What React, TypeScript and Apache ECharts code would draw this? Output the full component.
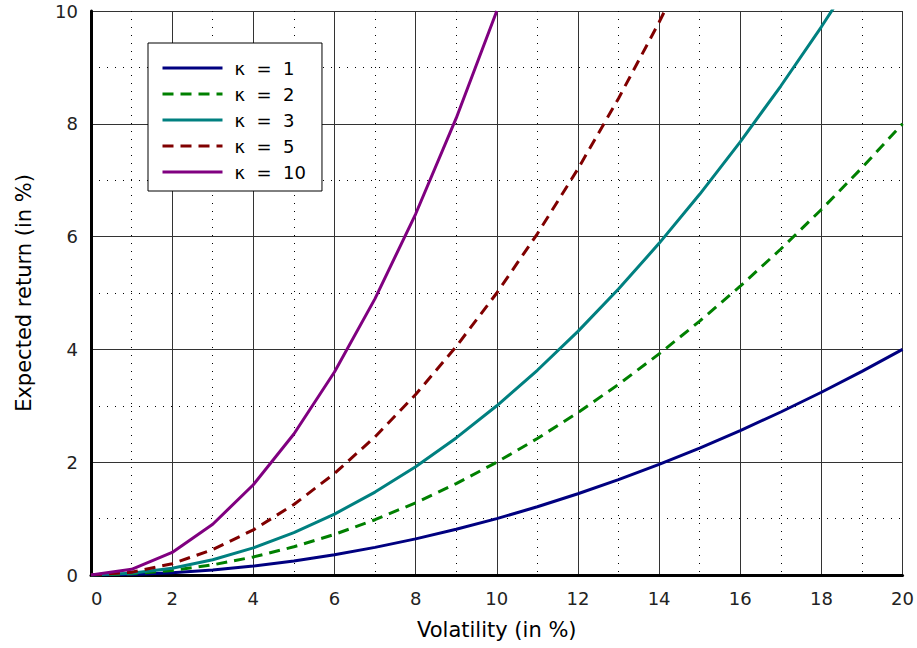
import React, { useEffect, useRef } from "react";
import * as echarts from "echarts";

const volatility = [0, 1, 2, 3, 4, 5, 6, 7, 8, 9, 10, 11, 12, 13, 14, 15, 16, 17, 18, 19, 20];
const k1 = [0, 0.01, 0.04, 0.09, 0.16, 0.25, 0.36, 0.49, 0.64, 0.81, 1, 1.21, 1.44, 1.69, 1.96, 2.25, 2.56, 2.89, 3.24, 3.61, 4];
const k2 = [0, 0.02, 0.08, 0.18, 0.32, 0.5, 0.72, 0.98, 1.28, 1.62, 2, 2.42, 2.88, 3.38, 3.92, 4.5, 5.12, 5.78, 6.48, 7.22, 8];
const k3 = [0, 0.03, 0.12, 0.27, 0.48, 0.75, 1.08, 1.47, 1.92, 2.43, 3, 3.63, 4.32, 5.07, 5.88, 6.75, 7.68, 8.67, 9.72, 10.83];
const k5 = [0, 0.05, 0.2, 0.45, 0.8, 1.25, 1.8, 2.45, 3.2, 4.05, 5, 6.05, 7.2, 8.45, 9.8, 11.25];
const k10 = [0, 0.1, 0.4, 0.9, 1.6, 2.5, 3.6, 4.9, 6.4, 8.1, 10];
const names = ["κ = 1", "κ = 2", "κ = 3", "κ = 5", "κ = 10"];
const colors = ["#000080", "#008000", "#008080", "#800000", "#800080"];
const dashed = [false, true, false, true, false];

const FONT = "DejaVu Sans";

export default function App() {
  const ref = useRef<HTMLDivElement>(null);
  useEffect(() => {
    const chart = echarts.init(ref.current!, null, { renderer: "svg" });
    const all = [k1, k2, k3, k5, k10];
    const series = all.map((vals, i) => ({
      name: names[i],
      type: "line",
      data: vals.map((v, j) => [volatility[j], v]),
      symbol: "none",
      clip: true,
      lineStyle: { color: colors[i], width: 3, type: dashed[i] ? [11, 7] : "solid" },
      itemStyle: { color: colors[i] },
      z: 3 + i,
    }));
    chart.setOption({
      animation: false,
      backgroundColor: "#fff",
      textStyle: { fontFamily: FONT },
      grid: { left: 91, right: 13, top: 11, bottom: 73, containLabel: false },
      legend: {
        show: true,
        orient: "vertical",
        left: 148,
        top: 43,
        padding: [16, 16, 10, 13],
        itemGap: 8,
        itemWidth: 60,
        itemHeight: 14,
        backgroundColor: "#fff",
        borderColor: "#000",
        borderWidth: 1,
        itemStyle: { opacity: 0 },
        lineStyle: { width: 3 },
        formatter: (n: string) => n.replace(/ /g, "  "),
        textStyle: { fontFamily: FONT, fontSize: 18, color: "#000", padding: [0, 0, 0, 7] },
        data: names,
      },
      xAxis: {
        type: "value",
        min: 0,
        max: 20,
        interval: 2,
        name: "Volatility (in %)",
        nameLocation: "middle",
        nameGap: 44,
        nameTextStyle: { fontFamily: FONT, fontSize: 21, color: "#000" },
        axisLine: { show: true, onZero: false, lineStyle: { color: "#000", width: 3 } },
        axisTick: { show: false },
        axisLabel: { fontFamily: FONT, fontSize: 18, color: "#222", margin: 14, alignMinLabel: "left" },
        splitLine: { show: true, lineStyle: { color: "#333", width: 1 } },
        minorTick: { show: false, splitNumber: 2 },
        minorSplitLine: { show: true, lineStyle: { color: "#000", width: 1, type: [1, 7] } },
      },
      yAxis: {
        type: "value",
        min: 0,
        max: 10,
        interval: 2,
        name: "Expected return (in %)",
        nameLocation: "middle",
        nameGap: 57,
        nameTextStyle: { fontFamily: FONT, fontSize: 21, color: "#000" },
        axisLine: { show: true, onZero: false, lineStyle: { color: "#000", width: 3 } },
        axisTick: { show: false },
        axisLabel: { fontFamily: FONT, fontSize: 18, color: "#222", margin: 13 },
        splitLine: { show: true, lineStyle: { color: "#333", width: 1 } },
        minorTick: { show: false, splitNumber: 2 },
        minorSplitLine: { show: true, lineStyle: { color: "#000", width: 1, type: [1, 7] } },
      },
      series,
    });
    return () => chart.dispose();
  }, []);
  return <div ref={ref} style={{ width: 917, height: 648, position: "absolute", left: 0, top: 0 }} />;
}
